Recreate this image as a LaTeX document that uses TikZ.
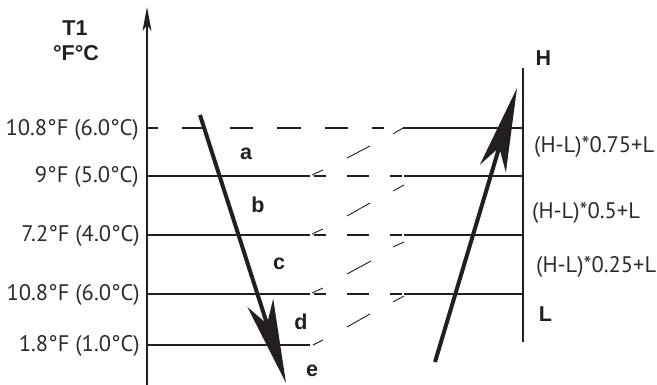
\documentclass[tikz,border=0pt]{standalone}
\usepackage{fontspec}
\setmainfont{PT Sans}
\newfontfamily\boldsans{Liberation Sans}
\usetikzlibrary{arrows.meta}
\definecolor{ink}{RGB}{35,31,32}
\definecolor{txt}{RGB}{45,42,43}
\begin{document}
\begin{tikzpicture}[x=1pt,y=-1pt,
  lbl/.style={font=\fontsize{22.5}{22.5}\selectfont, text=txt, inner sep=0pt},
  blbl/.style={font=\boldsans\bfseries\fontsize{21.5}{21.5}\selectfont, text=ink, inner sep=0pt},
  hline/.style={draw=ink, line width=1.6pt},
  brk/.style={draw=ink, line width=0.9pt},
  dsh/.style={draw=ink, line width=1.3pt},
  axis/.style={draw=ink, line width=1.5pt},
  big/.style={draw=ink, line width=4pt, -{Stealth[length=84pt,width=27pt,inset=22pt]}},
]
\useasboundingbox (0,0) rectangle (657,385);

% left axis
\coordinate (ax0) at (147,385);
\coordinate (ax1) at (147,7);
\draw[axis,-{Stealth[length=24pt,width=9pt,inset=6pt]}] (ax0) -- (ax1);
% right axis
\coordinate (rx0) at (523,342);
\coordinate (rx1) at (523,68);
\draw[axis] (rx0) -- (rx1);

% top dashed level
\coordinate (t0) at (147,128);
\coordinate (t1) at (384,128);
\coordinate (t2) at (393,134);
\coordinate (t3) at (403,128);
\coordinate (t4) at (523,128);
\draw[dsh, dash pattern=on 23.5pt off 24pt, dash phase=12.5pt] (t0) -- (t1);
\draw[brk] (t2) -- (t3);
\draw[hline] (t3) -- (t4);

% broken levels
\foreach \y/\s/\t in {176/15/9, 235/12/7, 294/8/2} {
  \draw[hline] (147,\y) -- (310,\y);
  \draw[brk] (312,\y-1) -- (323,\y-6);
  \draw[dsh] (314,\y) -- (326,\y) (347,\y) -- (369,\y) (390,\y) -- (402,\y);
  \draw[hline] (404,\y) -- (523,\y);
  \draw[brk] (393,\y+\s) -- (404,\y+\t);
}
% bottom level
\draw[hline] (147,345) -- (310,345);
\draw[brk] (313,345) -- (323,340);

% middle break slashes
\draw[brk] (347,158) -- (370,146);
\draw[brk] (347,216) -- (370,203);
\draw[brk] (347,274) -- (371,261);
\draw[brk] (347,327) -- (370,314);

% big arrows
\coordinate (dA) at (200,115);
\coordinate (dB) at (286,383);
\coordinate (uA) at (435,362);
\coordinate (uB) at (517,88);
\draw[big] (dA) -- (dB);
\draw[big] (uA) -- (uB);

% left labels
\node[lbl, anchor=east] (l1) at (139,130) {10.8°F (6.0°C)};
\node[lbl, anchor=east] (l2) at (139,177) {9°F (5.0°C)};
\node[lbl, anchor=east] (l3) at (140,236) {7.2°F (4.0°C)};
\node[lbl, anchor=east] (l4) at (140,295) {10.8°F (6.0°C)};
\node[lbl, anchor=east] (l5) at (140,346) {1.8°F (1.0°C)};

% title
\node[blbl, anchor=base] (T) at (75,36) {T1};
\node[blbl, anchor=base] (U) at (76,61) {°F°C};

% zone letters
\node[blbl, anchor=base] (za) at (246,160) {a};
\node[blbl, anchor=base] (zb) at (258,213) {b};
\node[blbl, anchor=base] (zc) at (279,270) {c};
\node[blbl, anchor=base] (zd) at (301,330) {d};
\node[blbl, anchor=base] (ze) at (312,377) {e};

% right labels
\node[blbl, anchor=base] (H) at (543.5,66) {H};
\node[blbl, anchor=base] (L) at (545.5,321) {L};
\node[lbl, anchor=west] (r1) at (534,147) {(H-L)*0.75+L};
\node[lbl, anchor=west] (r2) at (532,213) {(H-L)*0.5+L};
\node[lbl, anchor=west] (r3) at (536,267) {(H-L)*0.25+L};
\end{tikzpicture}
\end{document}
